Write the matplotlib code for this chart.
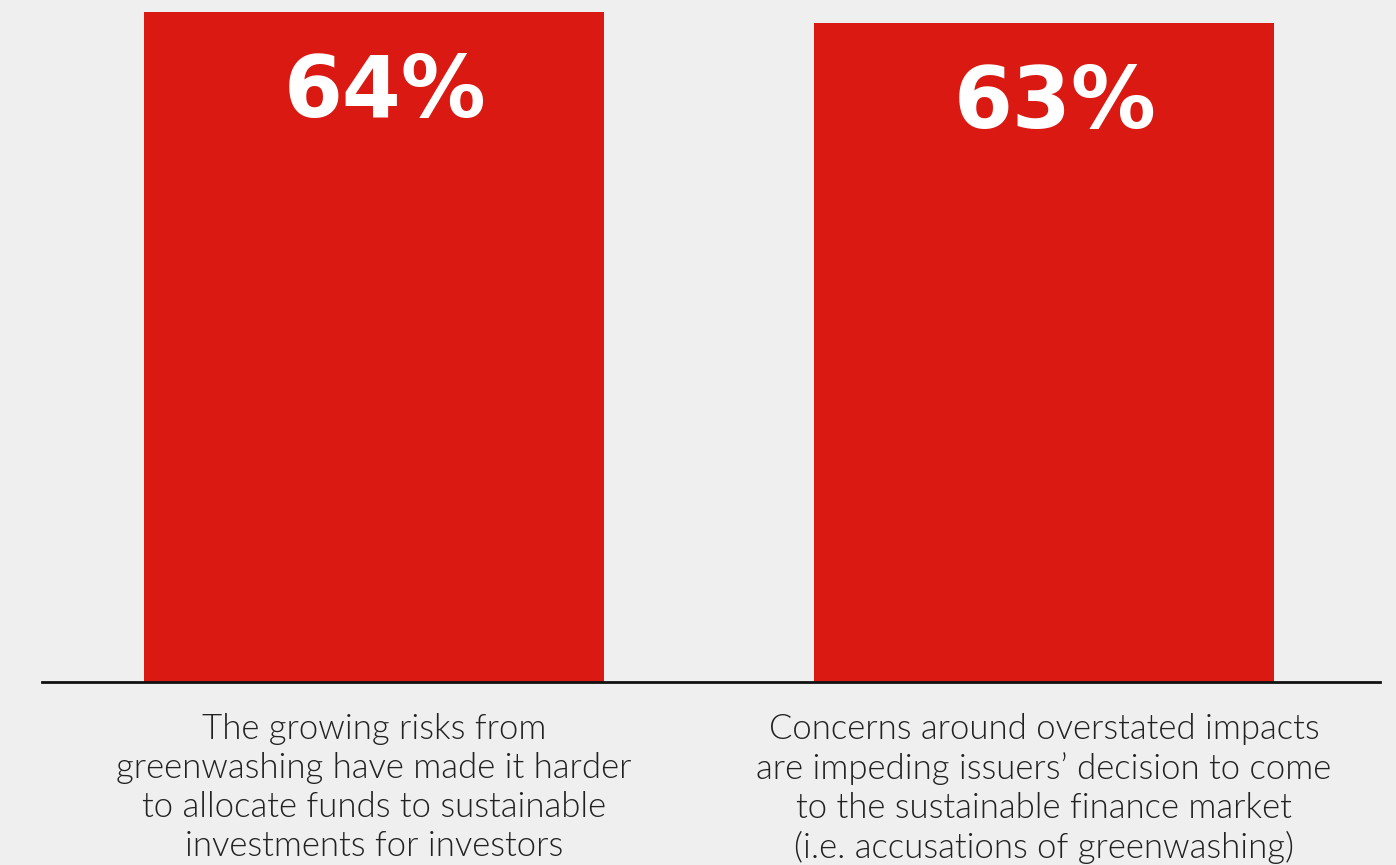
import matplotlib.pyplot as plt

# survey results
categories = [
    "The growing risks from\ngreenwashing have made it harder\nto allocate funds to sustainable\ninvestments for investors",
    "Concerns around overstated impacts\nare impeding issuers\u2019 decision to come\nto the sustainable finance market\n(i.e. accusations of greenwashing)",
]
values = [64, 63]

bg = "#efefef"
red = "#d91912"

fig = plt.figure(figsize=(13.96, 8.65), dpi=100, facecolor=bg)
ax = fig.add_axes([42 / 1396, 183 / 865, 1338 / 1396, 682 / 865])
ax.set_facecolor(bg)

x = list(range(len(values)))
bars = ax.bar(x, values, width=0.687, color=red, zorder=2)

ax.set_xlim(-0.4955, 1.5015)
ax.set_ylim(0, 65.15)

for s in ["top", "left", "right"]:
    ax.spines[s].set_visible(False)
ax.spines["bottom"].set_linewidth(2)
ax.spines["bottom"].set_color("#111111")
ax.set_yticks([])
ax.set_xticks([])

# value labels inside the bars
for xi, v in zip(x, values):
    ax.annotate(f"{v}%", (xi, v), xytext=(8, -29), textcoords="offset points",
                ha="center", va="top", color="white", fontsize=61,
                fontweight="bold", family="DejaVu Sans")

# category labels under the axis
for xi, lab in zip(x, categories):
    ax.annotate(lab, (xi, 0), xytext=(0, -22), textcoords="offset points",
                ha="center", va="top", color="#222222", fontsize=25,
                fontweight=300, family="Lato", linespacing=1.27,
                annotation_clip=False)

fig.savefig("out.png", dpi=100, facecolor=bg)
